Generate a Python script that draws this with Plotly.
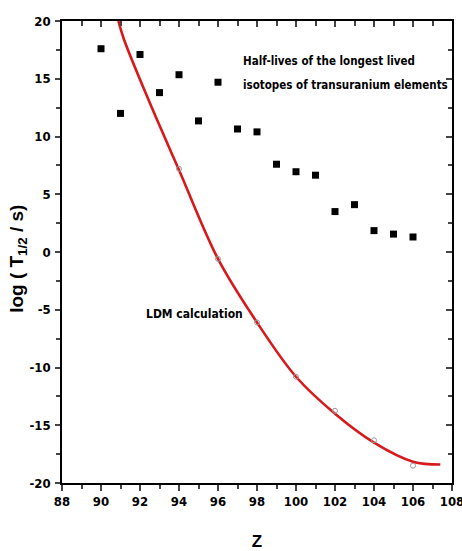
import plotly.graph_objects as go

# Experimental: longest-lived isotopes
z_exp = [90, 91, 92, 93, 94, 95, 96, 97, 98, 99, 100, 101, 102, 103, 104, 105, 106]
logT_exp = [17.6, 12.0, 17.1, 13.8, 15.35, 11.35, 14.7, 10.65, 10.4, 7.6, 6.95, 6.65, 3.5, 4.1, 1.85, 1.55, 1.3]

# LDM calculated points (open circles)
z_ldm = [94, 96, 98, 100, 102, 104, 106]
logT_ldm = [7.2, -0.6, -6.1, -10.8, -13.75, -16.3, -18.5]

# LDM curve
z_curve = [90.89, 91.18, 92.43, 94, 96, 98, 100, 102, 104, 106, 107.4]
logT_curve = [20, 18.4, 13.2, 7.1, -0.6, -6.1, -10.8, -14.0, -16.5, -18.15, -18.4]

# Tick labels
x_ticks = [88, 90, 92, 94, 96, 98, 100, 102, 104, 106, 108]
x_ticktext = ["88", "90", "92", "94", "96", "98", "100", "102", "104", "106", "108"]
y_ticks = [-20, -15, -10, -5, 0, 5, 10, 15, 20]
y_ticktext = ["-20", "-15", "-10", "-5", "0", "5", "10", "15", "20"]

FONT = "DejaVu Sans Condensed, Liberation Sans Narrow, sans-serif"

fig = go.Figure()
fig.add_trace(go.Scatter(x=z_curve, y=logT_curve, mode="lines",
                         line=dict(color="#d7191c", width=2.6, shape="spline", smoothing=1.0),
                         showlegend=False, hoverinfo="skip"))
fig.add_trace(go.Scatter(x=z_ldm, y=logT_ldm, mode="markers",
                         marker=dict(symbol="circle-open", size=5, color="#9a9a9a", line=dict(width=1)),
                         showlegend=False))
fig.add_trace(go.Scatter(x=z_exp, y=logT_exp, mode="markers",
                         marker=dict(symbol="square", size=7, color="black"),
                         showlegend=False))
# invisible trace for mirror axes
fig.add_trace(go.Scatter(x=[88], y=[-20], xaxis="x2", yaxis="y2", mode="markers",
                         marker=dict(opacity=0), showlegend=False, hoverinfo="skip"))

tickfont = dict(family=FONT, size=13, color="black", weight="bold")
fig.update_layout(
    width=462, height=551,
    margin=dict(l=62, r=10, t=21, b=68),
    paper_bgcolor="white", plot_bgcolor="white",
    xaxis=dict(range=[88, 108], tickmode="array", tickvals=x_ticks, ticktext=x_ticktext,
               ticks="outside", ticklen=6, tickwidth=1.5, automargin=False,
               ticklabeloverflow="allow",
               showline=True, linecolor="black", linewidth=1.5, showgrid=False, zeroline=False,
               tickfont=tickfont,
               minor=dict(dtick=1, tick0=88, ticks="outside", ticklen=4, tickwidth=1.5),
               title=dict(text="<b>Z</b>", font=dict(family="Liberation Sans, Arial, sans-serif", size=17, color="black"), standoff=27)),
    yaxis=dict(range=[-20, 20], tickmode="array", tickvals=y_ticks, ticktext=y_ticktext,
               ticks="outside", ticklen=5, tickwidth=1.5, automargin=False,
               ticklabeloverflow="allow",
               showline=True, linecolor="black", linewidth=1.5, showgrid=False, zeroline=False,
               tickfont=tickfont, ticklabelstandoff=2,
               minor=dict(dtick=2.5, tick0=0, ticks="outside", ticklen=4, tickwidth=1.5)),
    xaxis2=dict(range=[88, 108], overlaying="x", side="top", dtick=2, tick0=88, ticks="inside",
                ticklen=6, tickwidth=1.5, showticklabels=False, showline=True, linecolor="black",
                linewidth=1.5, showgrid=False, zeroline=False, automargin=False,
                minor=dict(dtick=1, ticks="inside", ticklen=5, tickwidth=1.5)),
    yaxis2=dict(range=[-20, 20], overlaying="y", side="right", dtick=5, tick0=0, ticks="inside",
                ticklen=6, tickwidth=1.5, showticklabels=False, showline=True, linecolor="black",
                linewidth=1.5, showgrid=False, zeroline=False, automargin=False,
                minor=dict(dtick=2.5, ticks="inside", ticklen=4, tickwidth=1.5)),
)

# y-axis title placed as rotated annotation
fig.add_annotation(x=-0.113, y=0.485, xref="paper", yref="paper", xanchor="center", yanchor="middle",
                   text="<b>log ( T<sub>1/2</sub> / s)</b>", textangle=-90, showarrow=False,
                   font=dict(family="Liberation Sans, Arial, sans-serif", size=19, color="black"))

fig.add_annotation(x=97.2, y=16.55, xref="x", yref="y", xanchor="left", yanchor="middle",
                   text="<b>Half-lives of the longest lived</b>", showarrow=False,
                   font=dict(family=FONT, size=11.5, color="black"))
fig.add_annotation(x=97.2, y=14.5, xref="x", yref="y", xanchor="left", yanchor="middle",
                   text="<b>isotopes of transuranium elements</b>", showarrow=False,
                   font=dict(family=FONT, size=11.5, color="black"))
fig.add_annotation(x=92.2, y=-5.35, xref="x", yref="y", xanchor="left", yanchor="middle",
                   text="<b>LDM calculation</b>", showarrow=False,
                   font=dict(family=FONT, size=12, color="black"))

fig.write_html("out.html")
